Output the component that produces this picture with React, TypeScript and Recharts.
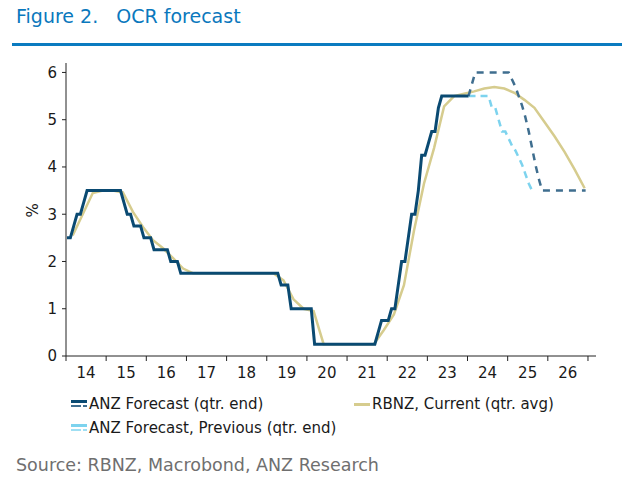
import React from 'react';
import { LineChart, Line, XAxis, YAxis, Label } from 'recharts';

// OCR, month-end values, Jan 2014 onwards
const anzActual = [
  2.5, 2.5, 2.75, 3.0, 3.0, 3.25, 3.5, 3.5, 3.5, 3.5, 3.5, 3.5, // 2014
  3.5, 3.5, 3.5, 3.5, 3.5, 3.25, 3.0, 3.0, 2.75, 2.75, 2.75, 2.5, // 2015
  2.5, 2.5, 2.25, 2.25, 2.25, 2.25, 2.25, 2.0, 2.0, 2.0, 1.75, 1.75, // 2016
  1.75, 1.75, 1.75, 1.75, 1.75, 1.75, 1.75, 1.75, 1.75, 1.75, 1.75, 1.75, // 2017
  1.75, 1.75, 1.75, 1.75, 1.75, 1.75, 1.75, 1.75, 1.75, 1.75, 1.75, 1.75, // 2018
  1.75, 1.75, 1.75, 1.75, 1.5, 1.5, 1.5, 1.0, 1.0, 1.0, 1.0, 1.0, // 2019
  1.0, 1.0, 0.25, 0.25, 0.25, 0.25, 0.25, 0.25, 0.25, 0.25, 0.25, 0.25, // 2020
  0.25, 0.25, 0.25, 0.25, 0.25, 0.25, 0.25, 0.25, 0.25, 0.5, 0.75, 0.75, // 2021
  0.75, 1.0, 1.0, 1.5, 2.0, 2.0, 2.5, 3.0, 3.0, 3.5, 4.25, 4.25, // 2022
  4.5, 4.75, 4.75, 5.25, 5.5, 5.5, 5.5, 5.5, 5.5, 5.5, 5.5, 5.5, // 2023
  5.5, // Jan 2024
];

// forecasts, monthly from Jan 2024
const anzForecast = [
  5.5, 5.75, 6.0, 6.0, 6.0, 6.0, 6.0, 6.0, 6.0, 6.0, 6.0, 6.0, // 2024
  6.0, 5.85, 5.7, 5.5, 5.3, 5.05, 4.75, 4.4, 4.05, 3.75, 3.5, 3.5, // 2025
  3.5, 3.5, 3.5, 3.5, 3.5, 3.5, 3.5, 3.5, 3.5, 3.5, 3.5, 3.5, // 2026
];
const anzPrevious = [
  5.5, 5.5, 5.5, 5.5, 5.5, 5.5, 5.5, 5.25, 5.25, 5.0, 4.75, 4.75, // 2024
  4.6, 4.45, 4.35, 4.2, 4.05, 3.85, 3.65, 3.5, // 2025
];

// RBNZ quarterly average, 2014 Q1 - 2026 Q4
const rbnzCurrent = [
  2.55, 3.0, 3.45, 3.5, // 2014
  3.5, 3.46, 3.05, 2.73, // 2015
  2.45, 2.28, 2.07, 1.85, // 2016
  1.75, 1.75, 1.75, 1.75, // 2017
  1.75, 1.75, 1.75, 1.75, // 2018
  1.75, 1.6, 1.2, 1.0, // 2019
  0.95, 0.25, 0.25, 0.25, // 2020
  0.25, 0.25, 0.25, 0.55, // 2021
  0.88, 1.5, 2.65, 3.65, // 2022
  4.4, 5.28, 5.5, 5.55, // 2023
  5.6, 5.66, 5.69, 5.66, // 2024
  5.57, 5.42, 5.25, 4.95, // 2025
  4.65, 4.32, 3.95, 3.55, // 2026
];

const yearTicks = [2014, 2015, 2016, 2017, 2018, 2019, 2020, 2021, 2022, 2023, 2024, 2025, 2026, 2027];
const yTicks = [0, 1, 2, 3, 4, 5, 6];

const monthly = (vals: number[], startYear: number) =>
  vals.map((v, i) => ({ t: startYear + (i + 0.3) / 12, v }));
const quarterly = (vals: number[], startYear: number) =>
  vals.map((v, i) => ({ t: startYear + Math.floor(i / 4) + ((i % 4) * 3 + 2) / 12, v }));

const actualRows = monthly(anzActual, 2014);
const forecastRows = monthly(anzForecast, 2024);
const previousRows = monthly(anzPrevious, 2024);
const rbnzRows = quarterly(rbnzCurrent, 2014);

const NAVY = '#0a4a72';
const NAVY_DASH = '#3f6e8f';
const LIGHT = '#7dd3ee';
const KHAKI = '#d6cc8e';
const FONT = "'DejaVu Sans', Verdana, sans-serif";

function YearTick({ x, y, payload }: any) {
  if (payload.value >= 2027) return null;
  return (
    <text x={x + 20} y={y} dy="0.71em" textAnchor="middle" fill="#1a1a1a" fontSize={15} fontFamily={FONT}>
      {String(payload.value).slice(2)}
    </text>
  );
}

function LegendItem({ label, color, dash }: { label: string; color: string; dash?: string }) {
  return (
    <div style={{ display: 'flex', alignItems: 'center' }}>
      <svg width={18} height={12} style={{ marginRight: 1 }}>
        {dash ? (
          <>
            <rect x={1} y={2} width={16} height={3} fill={color} />
            <rect x={1} y={7} width={10} height={2} fill={dash} />
            <rect x={13} y={7} width={4} height={2} fill={dash} />
          </>
        ) : (
          <rect x={1} y={5} width={16} height={3} fill={color} />
        )}
      </svg>
      <span>{label}</span>
    </div>
  );
}

export default function App() {
  return (
    <div style={{ position: 'fixed', left: 0, top: 0, width: 631, height: 481, background: '#fff', fontFamily: FONT }}>
      <div style={{ position: 'absolute', left: 16, top: 5, fontSize: 19, color: '#0a78bd', whiteSpace: 'pre' }}>
        {'Figure 2.   OCR forecast'}
      </div>
      <div style={{ position: 'absolute', left: 12, top: 43, width: 610, height: 3, background: '#0a7bc0' }} />

      <div style={{ position: 'absolute', left: 0, top: 0 }}>
        <LineChart width={631} height={481} margin={{ top: 63, right: 35, bottom: 95, left: 16 }}>
          <XAxis
            dataKey="t"
            type="number"
            domain={[2014, 2027.2]}
            ticks={yearTicks}
            interval={0}
            allowDataOverflow
            height={30}
            tickSize={5}
            tickMargin={6}
            stroke="#222"
            tick={<YearTick />}
          />
          <YAxis
            type="number"
            domain={[0, 6.2]}
            ticks={yTicks}
            allowDataOverflow
            width={50}
            tickSize={4}
            tickMargin={5}
            stroke="#222"
            tick={{ fill: '#1a1a1a', fontSize: 15, fontFamily: FONT }}
          >
            <Label value="%" angle={-90} position="insideLeft" offset={17} dy={8} style={{ fill: '#1a1a1a', fontSize: 15, fontFamily: FONT }} />
          </YAxis>
          <Line data={rbnzRows} dataKey="v" type="linear" stroke={KHAKI} strokeWidth={2.5} dot={false} isAnimationActive={false} />
          <Line data={previousRows} dataKey="v" type="linear" stroke={LIGHT} strokeWidth={2.5} strokeDasharray="7 5" dot={false} isAnimationActive={false} />
          <Line data={forecastRows} dataKey="v" type="linear" stroke={NAVY_DASH} strokeWidth={2.5} strokeDasharray="7 6" dot={false} isAnimationActive={false} />
          <Line data={actualRows} dataKey="v" type="linear" stroke={NAVY} strokeWidth={3} dot={false} isAnimationActive={false} />
        </LineChart>
      </div>

      <div style={{ position: 'absolute', left: 70, top: 394, fontSize: 15, color: '#1a1a1a', lineHeight: '20px' }}>
        <LegendItem label="ANZ Forecast (qtr. end)" color={NAVY} dash={NAVY_DASH} />
      </div>
      <div style={{ position: 'absolute', left: 353, top: 394, fontSize: 15, color: '#1a1a1a', lineHeight: '20px' }}>
        <LegendItem label="RBNZ, Current (qtr. avg)" color={KHAKI} />
      </div>
      <div style={{ position: 'absolute', left: 70, top: 418, fontSize: 15, color: '#1a1a1a', lineHeight: '20px' }}>
        <LegendItem label="ANZ Forecast, Previous (qtr. end)" color={LIGHT} dash="#9fdff3" />
      </div>

      <div style={{ position: 'absolute', left: 16, top: 454, fontSize: 17.5, color: '#6f6f6f', lineHeight: '22px' }}>
        Source: RBNZ, Macrobond, ANZ Research
      </div>
    </div>
  );
}
